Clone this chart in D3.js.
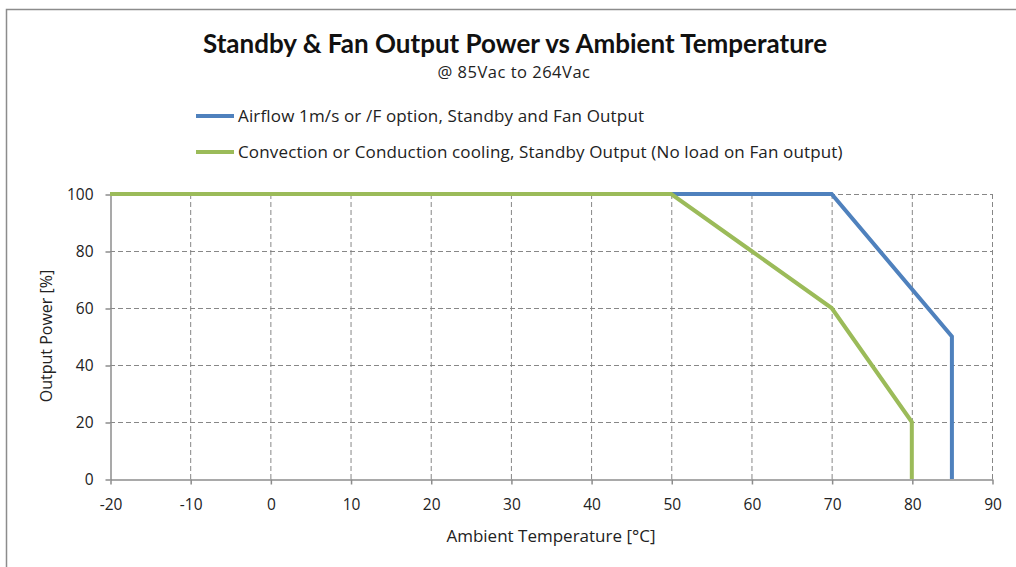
<!DOCTYPE html>
<html>
<head>
<meta charset="utf-8">
<script src="https://cdn.jsdelivr.net/npm/d3@7"></script>
<style>
  body { margin: 0; background: #fff; }
  svg { display: block; font-family: "Open Sans", Lato, sans-serif; }
</style>
</head>
<body>
<svg id="chart" width="1016" height="567"></svg>
<script>
// data
const xTicks = [-20, -10, 0, 10, 20, 30, 40, 50, 60, 70, 80, 90];
const yTicks = [0, 20, 40, 60, 80, 100];

const airflowTemp = [-20, 70, 85, 85];
const airflowPower = [100, 100, 50, 0];

const convectionTemp = [-20, 50, 60, 70, 80, 80];
const convectionPower = [100, 100, 80, 60, 20, 0];

const seriesNames = [
  "Airflow 1m/s or /F option, Standby and Fan Output",
  "Convection or Conduction cooling, Standby Output (No load on Fan output)"
];
const seriesColors = ["#4f81bd", "#9bbb59"];

const svg = d3.select("#chart");

// outer frame
svg.append("rect")
  .attr("x", 6.5).attr("y", 9.5)
  .attr("width", 1030).attr("height", 600)
  .attr("fill", "none")
  .attr("stroke", "#8c8c8c")
  .attr("stroke-width", 1.5);

// plot area in pixels
const plot = {left: 110, right: 992, top: 194, bottom: 479};

const x = d3.scaleLinear().domain([-20, 90]).range([plot.left, plot.right]);
const y = d3.scaleLinear().domain([0, 100]).range([plot.bottom, plot.top]);

// dashed grid
svg.append("g")
  .selectAll("line")
  .data(xTicks.filter(d => d !== -20))
  .enter().append("line")
  .attr("x1", d => x(d) + 0.5).attr("x2", d => x(d) + 0.5)
  .attr("y1", plot.top).attr("y2", plot.bottom)
  .attr("stroke", "#878787")
  .attr("stroke-dasharray", "5,3");

svg.append("g")
  .selectAll("line")
  .data(yTicks.filter(d => d !== 0))
  .enter().append("line")
  .attr("y1", d => y(d) + 0.5).attr("y2", d => y(d) + 0.5)
  .attr("x1", plot.left).attr("x2", plot.right)
  .attr("stroke", "#878787")
  .attr("stroke-dasharray", "5,3");

// axes (plain hyphen for negatives like the original)
const xAxis = svg.append("g")
  .attr("transform", `translate(0.5,${plot.bottom + 0.5})`)
  .call(d3.axisBottom(x).tickValues(xTicks).tickFormat(d => String(d))
    .tickSize(5).tickPadding(14).tickSizeOuter(0));

const yAxis = svg.append("g")
  .attr("transform", `translate(${plot.left + 0.5},0.5)`)
  .call(d3.axisLeft(y).tickValues(yTicks).tickFormat(d => String(d))
    .tickSize(5).tickPadding(12).tickSizeOuter(0));

[xAxis, yAxis].forEach(g => {
  g.select(".domain").attr("stroke", "#8c8c8c").attr("stroke-width", 1.5);
  g.selectAll(".tick line").attr("stroke", "#8c8c8c").attr("stroke-width", 1.5);
  g.selectAll(".tick text")
    .attr("fill", "#222")
    .style("font-size", "15.5px")
    .style("font-family", "'Open Sans', Lato, sans-serif");
});

// curves
const line = d3.line()
  .x(d => x(d[0]))
  .y(d => y(d[1]));

const airflow = airflowTemp.map((t, i) => [t, airflowPower[i]]);
const convection = convectionTemp.map((t, i) => [t, convectionPower[i]]);

[airflow, convection].forEach((pts, i) => {
  svg.append("path")
    .datum(pts)
    .attr("fill", "none")
    .attr("stroke", seriesColors[i])
    .attr("stroke-width", 4)
    .attr("stroke-linejoin", "miter")
    .attr("d", line);
});

// titles
svg.append("text")
  .attr("x", 515).attr("y", 53)
  .attr("text-anchor", "middle")
  .style("font-family", "Lato, sans-serif")
  .style("font-size", "26px")
  .style("font-weight", "bold")
  .attr("fill", "#111")
  .text("Standby & Fan Output Power vs Ambient Temperature");

svg.append("text")
  .attr("x", 514).attr("y", 78)
  .attr("text-anchor", "middle")
  .style("font-size", "16.5px")
  .style("letter-spacing", "0.5px")
  .attr("fill", "#222")
  .text("@ 85Vac to 264Vac");

// legend
const legend = svg.selectAll(".legend")
  .data(seriesNames)
  .enter().append("g")
  .attr("class", "legend")
  .attr("transform", (d, i) => `translate(0,${116 + i * 36})`);

legend.append("line")
  .attr("x1", 196).attr("x2", 234)
  .attr("stroke", (d, i) => seriesColors[i])
  .attr("stroke-width", 4);

legend.append("text")
  .attr("x", 238).attr("y", 0)
  .attr("dy", "0.35em")
  .style("font-size", "17px")
  .style("letter-spacing", "0.15px")
  .attr("fill", "#222")
  .text(d => d);

// axis titles
svg.append("text")
  .attr("x", 551).attr("y", 542)
  .attr("text-anchor", "middle")
  .style("font-size", "17px")
  .attr("fill", "#222")
  .text("Ambient Temperature [°C]");

svg.append("text")
  .attr("transform", "translate(52,336) rotate(-90)")
  .attr("text-anchor", "middle")
  .style("font-size", "16px")
  .attr("fill", "#222")
  .text("Output Power [%]");
</script>
</body>
</html>
